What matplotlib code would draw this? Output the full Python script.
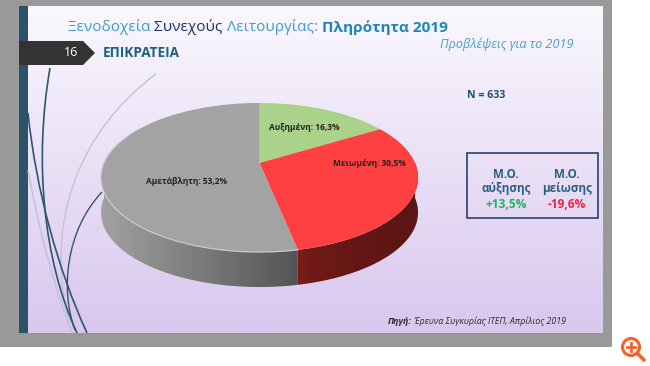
import matplotlib
matplotlib.use("Agg")
import matplotlib.pyplot as plt
import numpy as np
from matplotlib.patches import PathPatch, Polygon, Rectangle, Circle
from matplotlib.path import Path

plt.rcParams["font.family"] = ["Open Sans", "DejaVu Sans"]

categories = ["Αυξημένη", "Μειωμένη", "Αμετάβλητη"]
shares = [16.3, 30.5, 53.2]
colors = ["#aad28b", "#ff4040", "#a3a3a3"]
side_colors = [None, ("#7f1e1b", "#5a1512"), ("#a2a2a2", "#545454")]
label_pos = [(304, 127), (369, 163), (186, 181)]

n_label = "N = 633"
avg_heads = ["Μ.Ο.\nαύξησης", "Μ.Ο.\nμείωσης"]
avg_values = ["+13,5%", "-19,6%"]


# Pie plane to screen, the far side of the disc is squeezed a bit
def project(share, depth=0):
    t = 2 * np.pi * np.asarray(share) / 100
    x, y = np.sin(t), np.cos(t)
    w = 1 + 0.1946 * y
    return 259.5 + 155.5 * x / w, 163 - 71.7 * y / w + depth


def rgb(c):
    return np.array(matplotlib.colors.to_rgb(c))


def curve(ax, pts, color, lw):
    codes = [Path.MOVETO] + [Path.CURVE4] * (len(pts) - 1)
    ax.add_patch(PathPatch(Path(pts, codes), fc="none", ec=color, lw=lw, zorder=2))


fig = plt.figure(figsize=(6.5, 3.66), dpi=100)
ax = fig.add_axes([0, 0, 1, 1])
ax.axis("off")

# slide frame and background
ax.add_patch(Rectangle((0, 0), 612, 347, fc="#999999", ec="none", zorder=0))
grad = np.linspace(0, 1, 200).reshape(-1, 1, 1)
ax.imshow(rgb("#faf8fe") + (rgb("#d9c7ee") - rgb("#faf8fe")) * grad, extent=(19, 603, 333, 6), aspect="auto", zorder=1)
ax.add_patch(Rectangle((19, 6), 9, 327, fc="#2c5168", ec="none", zorder=2))

# swooshes on the left
dark = "#2f566e"
light = "#c3c4d8"
curve(ax, [(156, 74), (80, 130), (40, 225), (72, 333)], light, 1.0)
curve(ax, [(28, 170), (38, 225), (52, 280), (72, 333)], light, 1.2)
curve(ax, [(28, 113), (36, 190), (58, 270), (87, 333)], dark, 1.2)
curve(ax, [(50, 68), (34, 160), (43, 260), (77, 333)], dark, 1.2)
curve(ax, [(102, 192), (66, 230), (60, 290), (75, 330)], dark, 1.0)

# arrow tab
ax.add_patch(Polygon([(19, 41), (83, 41), (95, 53), (83, 65), (19, 65)], fc="#333333", ec="none", zorder=3))
ax.text(71, 53, "16", color="white", fontsize=9, ha="center", va="center", zorder=4)
ax.text(103, 53, "ΕΠΙΚΡΑΤΕΙΑ", color="#1d5f84", fontsize=9.8, fontweight="bold", va="center", zorder=4)

# pie side, a horizontal gradient clipped to each visible band
start = 0
for share, dk in zip(shares, side_colors):
    end = start + share
    if dk is not None:
        s = np.linspace(max(start, 25), min(end, 75), 200)
        xt, yt = project(s)
        xb, yb = project(s, 35)
        band = Polygon(np.r_[np.c_[xt, yt], np.c_[xb, yb][::-1]], closed=True, transform=ax.transData, fc="none", ec="none")
        ax.add_patch(band)
        f = np.linspace(0, 1, 256).reshape(1, -1, 1)
        left, right = (dk[1], dk[0]) if dk[0] == "#a2a2a2" else (dk[0], dk[1])
        if dk[0] == "#a2a2a2":
            # grey runs light on the left to dark at the red edge
            left, right = dk[0], dk[1]
        if dk[0] == "#7f1e1b":
            f = f ** 0.45
        img = ax.imshow(rgb(left) + (rgb(right) - rgb(left)) * f, extent=(xt.min(), xt.max(), 300, 140), aspect="auto", zorder=5)
        img.set_clip_path(band)
    start = end

# pie top
start = 0
for share, c in zip(shares, colors):
    s = np.linspace(start, start + share, 120)
    x, y = project(s)
    ax.add_patch(Polygon(np.r_[[[259.5, 163]], np.c_[x, y]], fc=c, ec="none", zorder=6))
    start += share

# light rim on the grey part
s = np.linspace(shares[0] + shares[1], 82, 120)
x, y = project(s)
ax.plot(x, y, color="#c9c9c9", lw=0.9, zorder=7)

ax.set_xlim(0, 650)
ax.set_ylim(366, 0)

for name, val, (px, py) in zip(categories, shares, label_pos):
    txt = f"{name}: {val:.1f}%".replace(".", ",")
    ax.text(px, py, txt, fontsize=6.0, fontweight="bold", color="#222222", ha="center", va="center", zorder=8)

# title, four pieces in a row
t = ax.text(68, 27, "Ξενοδοχεία ", color="#3f9ad0", fontsize=11.1, va="center", zorder=4)
t = ax.annotate("Συνεχούς ", xy=(1, 0), xycoords=t, va="bottom", color="#1f2f70", fontsize=11.1, zorder=4)
t = ax.annotate("Λειτουργίας: ", xy=(1, 0), xycoords=t, va="bottom", color="#3f9ad0", fontsize=11.1, zorder=4)
ax.annotate("Πληρότητα 2019", xy=(1, 0), xycoords=t, va="bottom", color="#1c86b8", fontsize=11.1, fontweight="bold", zorder=4)
ax.text(573, 44, "Προβλέψεις για το 2019", color="#4f9ccb", fontsize=9.1, style="italic", ha="right", va="center", zorder=4)

ax.text(486, 96, n_label, color="#1f4f6e", fontsize=7.6, fontweight="bold", ha="center", va="center", zorder=4)

# averages box
ax.add_patch(Rectangle((467, 153), 131, 65, fc="none", ec="#2b3f73", lw=1.2, zorder=4))
for cx, head, val, c in zip([506, 567], avg_heads, avg_values, ["#1fb35a", "#f5213f"]):
    ax.text(cx, 181.5, head, color="#2a5f82", fontsize=8.4, fontweight="bold", ha="center", va="center", linespacing=1.05, zorder=4)
    ax.text(cx, 204, val, color=c, fontsize=8.6, fontweight="bold", ha="center", va="center", zorder=4)

# source
t = ax.text(388, 322, "Πηγή:", color="#2a2a3a", fontsize=6.4, fontweight="bold", style="italic", va="center", zorder=4)
ax.annotate(" Έρευνα Συγκυρίας ΙΤΕΠ, Απρίλιος 2019", xy=(1, 0), xycoords=t, va="bottom", color="#2a2a3a", fontsize=6.4, style="italic", zorder=4)

# magnifier icon
ax.add_patch(Circle((631, 347), 8.5, fc="none", ec="#f4632a", lw=2.2, zorder=4))
ax.plot([637, 644], [353, 360], color="#f4632a", lw=2.6, solid_capstyle="round", zorder=4)
ax.plot([627, 635], [347, 347], color="#f4632a", lw=2.0, zorder=4)
ax.plot([631, 631], [343, 351], color="#f4632a", lw=2.0, zorder=4)

fig.savefig("out.png", dpi=100)
